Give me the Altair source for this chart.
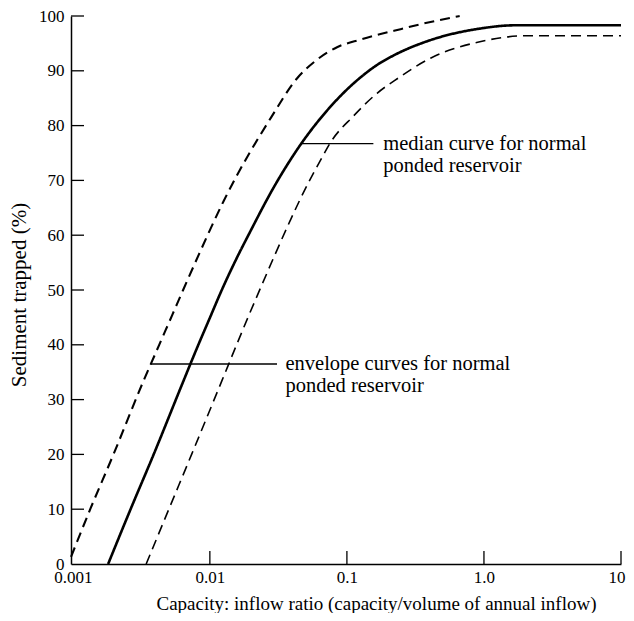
import altair as alt
import pandas as pd

# ---- data ----
median_x = [0.00181, 0.00264, 0.00389, 0.00644, 0.00824, 0.0098, 0.01222, 0.0162, 0.0191,
            0.0292, 0.0464, 0.0708, 0.123, 0.174, 0.219, 0.407, 0.933, 1.66, 10]
median_y = [0, 10, 20, 33.5, 40, 44.4, 50, 56.5, 60,
            68.7, 76.7, 82.6, 88.6, 91.4, 92.8, 95.6, 97.7, 98.3, 98.3]

upper_x = [0.00097, 0.00134, 0.00198, 0.00329, 0.00427, 0.00535, 0.00638, 0.00832, 0.00962,
           0.01259, 0.0280, 0.0432, 0.0603, 0.0847, 0.126, 0.176, 0.246, 0.344, 0.665]
upper_y = [1.3, 10, 20, 33.5, 40, 45.6, 50, 56.5, 60,
           66.2, 81.5, 88.6, 92.0, 94.3, 95.7, 96.7, 97.6, 98.5, 100]

lower_x = [0.00343, 0.00502, 0.00736, 0.01227, 0.01567, 0.01897, 0.02355, 0.03846, 0.04487,
           0.0676, 0.075, 0.1122, 0.166, 0.2344, 0.4074, 0.933, 2.07, 10]
lower_y = [0, 10, 20, 33.5, 40, 45, 50.5, 62.6, 66.2,
           74.7, 76.7, 81.8, 85.9, 88.6, 92.3, 95.3, 96.4, 96.4]

x_tick_values = [0.001, 0.01, 0.1, 1, 10]
x_tick_labels = ["0.001", "0.01", "0.1", "1.0", "10"]
x_inner_ticks = [0.01, 0.1, 1, 10]
y_tick_values = [0, 10, 20, 30, 40, 50, 60, 70, 80, 90, 100]
y_inner_ticks = [10, 20, 30, 40, 50, 60, 70, 80, 90, 100]

annot_text = ["median curve for normal\nponded reservoir",
              "envelope curves for normal\nponded reservoir"]
annot_y = [76.7, 36.5]
annot_x_start = [0.0464, 0.00368]
annot_x_end = [0.156, 0.0309]
annot_text_x = [0.184, 0.0356]

FONT = "Liberation Serif"
X_DOMAIN = [0.00097, 10]

rows = []
for name, xs, ys in [("median", median_x, median_y),
                     ("upper", upper_x, upper_y),
                     ("lower", lower_x, lower_y)]:
    for i, (xv, yv) in enumerate(zip(xs, ys)):
        rows.append({"series": name, "x": xv, "y": yv, "order": i})
curves = pd.DataFrame(rows)

label_expr = " : ".join(
    [f"datum.value < {v * 1.001} && datum.value > {v * 0.999} ? '{l}'"
     for v, l in zip(x_tick_values, x_tick_labels)]) + " : ''"

xscale = alt.Scale(type="log", domain=X_DOMAIN, nice=False)
yscale = alt.Scale(domain=[0, 100], nice=False)

x_axis = alt.Axis(values=x_tick_values, labelExpr=label_expr, ticks=False, grid=False,
                  domainColor="black", domainWidth=1.5, labelFont=FONT, labelFontSize=17,
                  labelColor="black", labelPadding=5, labelFlush=0.8, labelFlushOffset=4,
                  labelOverlap=False,
                  title="Capacity: inflow ratio (capacity/volume of annual inflow)",
                  titleFont=FONT, titleFontSize=19, titleFontWeight="normal", titleColor="black",
                  titleX=305, titleY=39, titleBaseline="middle", titleAlign="center")
y_axis = alt.Axis(values=y_tick_values, ticks=False, grid=False,
                  domainColor="black", domainWidth=1.5, labelFont=FONT, labelFontSize=17,
                  labelColor="black", labelPadding=7,
                  title="Sediment trapped (%)", titleFont=FONT, titleFontSize=21,
                  titleFontWeight="normal", titleColor="black",
                  titleX=-51.5, titleY=278.5, titleAngle=270, titleBaseline="middle",
                  titleAlign="center")

lines = alt.Chart(curves).mark_line(interpolate="monotone", color="black").encode(
    x=alt.X("x:Q", scale=xscale, axis=x_axis),
    y=alt.Y("y:Q", scale=yscale, axis=y_axis),
    detail="series:N",
    order="order:Q",
    strokeDash=alt.StrokeDash("series:N", scale=alt.Scale(
        domain=["median", "upper", "lower"], range=[[1, 0], [10, 6], [10, 6]]), legend=None),
    strokeWidth=alt.StrokeWidth("series:N", scale=alt.Scale(
        domain=["median", "upper", "lower"], range=[2.6, 1.6, 1.6]), legend=None),
)

ytick = alt.Chart(pd.DataFrame({"v": y_inner_ticks})).mark_rule(
    color="black", strokeWidth=1.3).encode(
    y=alt.Y("v:Q", scale=yscale), x=alt.value(0), x2=alt.value(13))

xtick = alt.Chart(pd.DataFrame({"v": x_inner_ticks})).mark_rule(
    color="black", strokeWidth=1.3).encode(
    x=alt.X("v:Q", scale=xscale), y=alt.value(535), y2=alt.value(548))

annot = pd.DataFrame({"text": annot_text, "y": annot_y, "x1": annot_x_start,
                      "x2": annot_x_end, "tx": annot_text_x})

annot_rules = alt.Chart(annot).mark_rule(color="black", strokeWidth=1.3).encode(
    x=alt.X("x1:Q", scale=xscale), x2="x2:Q", y=alt.Y("y:Q", scale=yscale))

annot_texts = alt.Chart(annot).mark_text(
    font=FONT, fontSize=20.5, color="black", align="left", baseline="top",
    lineBreak="\n", lineHeight=22, dy=-10).encode(
    x=alt.X("tx:Q", scale=xscale), y=alt.Y("y:Q", scale=yscale), text="text:N")

chart = alt.layer(lines, ytick, xtick, annot_rules, annot_texts).properties(
    width=550, height=548,
    autosize=alt.AutoSizeParams(type="none"),
    padding={"left": 63, "top": 8, "right": 5, "bottom": 49},
    background="white",
).configure_view(stroke=None)

chart.save("out.html", embed_options={"renderer": "svg", "actions": False})
